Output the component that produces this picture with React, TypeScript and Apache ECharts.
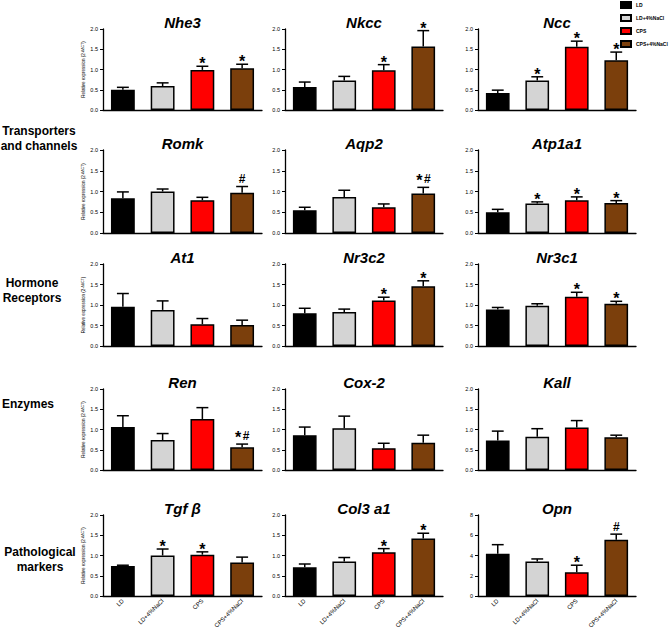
import React, { useEffect, useRef } from "react";
import * as echarts from "echarts";

const FONT = 'Arial, "Liberation Sans", Helvetica, sans-serif';

const groups = ["LD", "LD+4%NaCl", "CPS", "CPS+4%NaCl"];
const groupColors = ["#000000", "#d4d4d4", "#ff0000", "#7b3f0c"];

const panelNames = ["Nhe3", "Nkcc", "Ncc", "Romk", "Aqp2", "Atp1a1", "At1", "Nr3c2", "Nr3c1", "Ren", "Cox-2", "Kall", "Tgf β", "Col3 a1", "Opn"];

const nhe3Mean = [0.5, 0.59, 0.99, 1.03];
const nhe3Sem = [0.06, 0.08, 0.09, 0.1];
const nhe3Sig = ["", "", "*", "*"];

const nkccMean = [0.57, 0.73, 0.98, 1.57];
const nkccSem = [0.12, 0.1, 0.14, 0.39];
const nkccSig = ["", "", "*", "*"];

const nccMean = [0.42, 0.73, 1.56, 1.23];
const nccSem = [0.07, 0.09, 0.14, 0.2];
const nccSig = ["", "*", "*", "*"];

const romkMean = [0.84, 1.0, 0.79, 0.97];
const romkSem = [0.15, 0.06, 0.07, 0.15];
const romkSig = ["", "", "", "#"];

const aqp2Mean = [0.55, 0.87, 0.62, 0.95];
const aqp2Sem = [0.07, 0.16, 0.08, 0.15];
const aqp2Sig = ["", "", "", "*#"];

const atp1a1Mean = [0.5, 0.71, 0.79, 0.72];
const atp1a1Sem = [0.07, 0.04, 0.08, 0.06];
const atp1a1Sig = ["", "*", "*", "*"];

const at1Mean = [0.96, 0.88, 0.53, 0.51];
const at1Sem = [0.32, 0.22, 0.14, 0.12];
const at1Sig = ["", "", "", ""];

const nr3c2Mean = [0.8, 0.83, 1.11, 1.46];
const nr3c2Sem = [0.12, 0.07, 0.08, 0.13];
const nr3c2Sig = ["", "", "*", "*"];

const nr3c1Mean = [0.89, 0.98, 1.2, 1.03];
const nr3c1Sem = [0.05, 0.05, 0.11, 0.06];
const nr3c1Sig = ["", "", "*", "*"];

const renMean = [1.06, 0.74, 1.26, 0.56];
const renSem = [0.28, 0.16, 0.28, 0.08];
const renSig = ["", "", "", "*#"];

const cox2Mean = [0.86, 1.03, 0.54, 0.67];
const cox2Sem = [0.2, 0.3, 0.12, 0.19];
const cox2Sig = ["", "", "", ""];

const kallMean = [0.73, 0.82, 1.05, 0.81];
const kallSem = [0.23, 0.2, 0.17, 0.05];
const kallSig = ["", "", "", ""];

const tgfbMean = [0.74, 1.0, 1.02, 0.83];
const tgfbSem = [0.02, 0.16, 0.07, 0.13];
const tgfbSig = ["", "*", "*", ""];

const col3a1Mean = [0.71, 0.85, 1.08, 1.42];
const col3a1Sem = [0.08, 0.1, 0.09, 0.13];
const col3a1Sig = ["", "", "*", "*"];

const opnMean = [4.18, 3.4, 2.35, 5.56];
const opnSem = [0.89, 0.26, 0.69, 0.55];
const opnSig = ["", "", "*", "#"];

const panelMeans = [nhe3Mean, nkccMean, nccMean, romkMean, aqp2Mean, atp1a1Mean, at1Mean, nr3c2Mean, nr3c1Mean, renMean, cox2Mean, kallMean, tgfbMean, col3a1Mean, opnMean];
const panelSems = [nhe3Sem, nkccSem, nccSem, romkSem, aqp2Sem, atp1a1Sem, at1Sem, nr3c2Sem, nr3c1Sem, renSem, cox2Sem, kallSem, tgfbSem, col3a1Sem, opnSem];
const panelSigs = [nhe3Sig, nkccSig, nccSig, romkSig, aqp2Sig, atp1a1Sig, at1Sig, nr3c2Sig, nr3c1Sig, renSig, cox2Sig, kallSig, tgfbSig, col3a1Sig, opnSig];
const panelMax = [2, 2, 2, 2, 2, 2, 2, 2, 2, 2, 2, 2, 2, 2, 8];
const panelStep = [0.5, 0.5, 0.5, 0.5, 0.5, 0.5, 0.5, 0.5, 0.5, 0.5, 0.5, 0.5, 0.5, 0.5, 2];

const rowLabelTexts = ["Transporters\nand channels", "Hormone\nReceptors", "Enzymes", "Pathological\nmarkers"];
const yAxisTitle = "Relative expression (2{sup|-ΔΔCT})";

// layout
const colLeft = [103, 285, 478];
const colWidth = [159, 158, 158];
const rowTop = [29, 150, 264, 389, 515];
const rowHeight = [81, 83, 82, 81, 81];
const rowLabelPos = [
  [39, 138],
  [32, 290],
  [28, 404],
  [40, 559],
];

function buildOption() {
  const grid: any[] = [];
  const xAxis: any[] = [];
  const yAxis: any[] = [];
  const series: any[] = [];
  const graphic: any[] = [];

  panelNames.forEach((name, i) => {
    const r = Math.floor(i / 3);
    const c = i % 3;
    const mean = panelMeans[i];
    const sem = panelSems[i];
    const sig = panelSigs[i];
    const step = panelStep[i];
    grid.push({ left: colLeft[c], top: rowTop[r], width: colWidth[c], height: rowHeight[r], containLabel: false });
    xAxis.push({
      type: "category",
      gridIndex: i,
      data: groups,
      axisLine: { lineStyle: { color: "#000", width: 1.3 } },
      axisTick: { alignWithLabel: true, length: 3, lineStyle: { color: "#000", width: 1 } },
      axisLabel: { show: r === 4, interval: 0, rotate: 45, fontSize: 6, color: "#000", margin: 4, fontFamily: FONT },
      splitLine: { show: false },
    });
    yAxis.push({
      type: "value",
      gridIndex: i,
      min: 0,
      max: panelMax[i],
      interval: step,
      axisLine: { show: true, lineStyle: { color: "#000", width: 1.3 } },
      axisTick: { show: true, length: 3, lineStyle: { color: "#000", width: 1 } },
      splitLine: { show: false },
      axisLabel: {
        fontSize: 5.5,
        color: "#000",
        margin: 5,
        fontFamily: FONT,
        formatter: (v: number) => (step < 1 ? v.toFixed(1) : String(v)),
      },
      name: c === 0 ? yAxisTitle : "",
      nameLocation: "middle",
      nameRotate: 90,
      nameGap: 15,
      nameTextStyle: {
        fontSize: 4.5,
        color: "#000",
        fontFamily: FONT,
        rich: { sup: { fontSize: 3.5, verticalAlign: "top", color: "#000" } },
      },
    });
    groups.forEach((g, k) => {
      series.push({
        type: "bar",
        name: g,
        xAxisIndex: i,
        yAxisIndex: i,
        barWidth: "60%",
        barGap: "-100%",
        data: mean.map((v, j) => (j === k ? v : "-")),
        itemStyle: { color: groupColors[k], borderColor: "#000", borderWidth: 1.5 },
        z: 2,
      });
    });
    series.push({
      type: "custom",
      xAxisIndex: i,
      yAxisIndex: i,
      silent: true,
      z: 10,
      encode: { x: 0, y: [1, 2] },
      data: mean.map((v, j) => [j, v, v + sem[j]]),
      renderItem: (params: any, api: any) => {
        const idx = api.value(0);
        const base = api.coord([idx, api.value(1)]);
        const top = api.coord([idx, api.value(2)]);
        const bw = api.size([1, 0])[0] * 0.6;
        const capHalf = bw * 0.25;
        const s = sig[params.dataIndex] || "";
        const children: any[] = [
          { type: "line", shape: { x1: base[0], y1: base[1], x2: top[0], y2: top[1] }, style: { stroke: "#000", lineWidth: 1.5 } },
          { type: "line", shape: { x1: top[0] - capHalf, y1: top[1], x2: top[0] + capHalf, y2: top[1] }, style: { stroke: "#000", lineWidth: 1.5 } },
        ];
        const hasStar = s.indexOf("*") >= 0;
        const hasHash = s.indexOf("#") >= 0;
        if (hasStar && hasHash) {
          children.push({
            type: "text",
            style: { text: "*", x: top[0] - 4, y: top[1] - 7, align: "center", verticalAlign: "middle", fontSize: 16, fontWeight: "bold", fontFamily: FONT, fill: "#000" },
          });
          children.push({
            type: "text",
            style: { text: "#", x: top[0] + 4, y: top[1] - 8, align: "center", verticalAlign: "middle", fontSize: 12, fontWeight: "bold", fontFamily: FONT, fill: "#000" },
          });
        } else if (hasHash) {
          children.push({
            type: "text",
            style: { text: "#", x: top[0], y: top[1] - 7.5, align: "center", verticalAlign: "middle", fontSize: 12, fontWeight: "bold", fontFamily: FONT, fill: "#000" },
          });
        } else if (hasStar) {
          children.push({
            type: "text",
            style: { text: "*", x: top[0], y: top[1] - 2.5, align: "center", verticalAlign: "middle", fontSize: 16, fontWeight: "bold", fontFamily: FONT, fill: "#000" },
          });
        }
        return { type: "group", children };
      },
    });
    graphic.push({
      type: "text",
      x: colLeft[c] + colWidth[c] / 2,
      y: rowTop[r] - 7,
      silent: true,
      style: {
        text: name,
        align: "center",
        verticalAlign: "middle",
        textAlign: "center",
        textVerticalAlign: "middle",
        fontSize: 15,
        fontWeight: "bold",
        fontStyle: "italic",
        fontFamily: FONT,
        fill: "#000",
      },
    });
  });

  rowLabelTexts.forEach((t, k) => {
    graphic.push({
      type: "text",
      x: rowLabelPos[k][0],
      y: rowLabelPos[k][1],
      silent: true,
      style: {
        text: t,
        align: "center",
        verticalAlign: "middle",
        textAlign: "center",
        textVerticalAlign: "middle",
        fontSize: 12,
        fontWeight: "bold",
        lineHeight: 15,
        fontFamily: FONT,
        fill: "#000",
      },
    });
  });

  return {
    animation: false,
    backgroundColor: "#ffffff",
    textStyle: { fontFamily: FONT },
    legend: {
      data: groups,
      orient: "vertical",
      left: 620,
      top: 1,
      padding: 0,
      itemWidth: 10,
      itemHeight: 6,
      itemGap: 5,
      icon: "rect",
      selectedMode: false,
      z: 1,
      textStyle: { fontSize: 5, fontWeight: "bold", color: "#000", fontFamily: FONT },
    },
    grid,
    xAxis,
    yAxis,
    series,
    graphic,
  };
}

export default function App() {
  const ref = useRef<HTMLDivElement>(null);
  useEffect(() => {
    if (!ref.current) return;
    const chart = echarts.init(ref.current, undefined, { renderer: "svg" });
    chart.setOption(buildOption() as any);
    return () => chart.dispose();
  }, []);
  return <div ref={ref} style={{ position: "fixed", left: 0, top: 0, width: 669, height: 632, background: "#fff" }} />;
}
